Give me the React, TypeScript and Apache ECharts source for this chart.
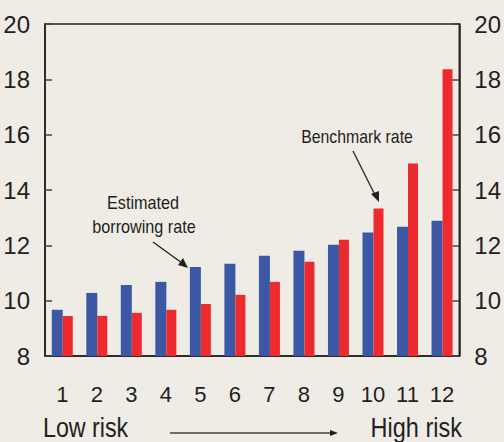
import React, { useEffect, useRef } from "react";
import * as echarts from "echarts";

const categories = ["1", "2", "3", "4", "5", "6", "7", "8", "9", "10", "11", "12"];
const borrowingRate = [9.67, 10.28, 10.57, 10.68, 11.22, 11.33, 11.62, 11.8, 12.02, 12.46, 12.67, 12.89];
const benchmarkRate = [9.45, 9.45, 9.56, 9.67, 9.88, 10.21, 10.68, 11.41, 12.2, 13.33, 14.96, 18.36];
const yMin = 8;
const yMax = 20;
const yInterval = 2;

const FF = "'Liberation Sans', Arial, Helvetica, sans-serif";
const INK = "#231f20";

export default function App() {
  const ref = useRef<HTMLDivElement>(null);
  useEffect(() => {
    if (!ref.current) return;
    const chart = echarts.init(ref.current, null, { renderer: "svg" });
    const yAxisBase = (pos: "left" | "right") => ({
      type: "value",
      position: pos,
      min: yMin,
      max: yMax,
      interval: yInterval,
      axisLine: { show: true, lineStyle: { color: INK, width: 1.5 } },
      axisTick: { show: true, inside: true, length: 7, lineStyle: { color: "#444", width: 1.5 } },
      axisLabel: { color: INK, fontFamily: FF, fontSize: 24, margin: 15 },
      splitLine: { show: false },
    });
    const note = (text: string, x: number, y: number, size: number, sx: number, align: string) => ({
      type: "text",
      x,
      y,
      scaleX: sx,
      style: { text, font: `${size}px ${FF}`, fill: INK, textAlign: align, textVerticalAlign: "middle" },
    });
    chart.setOption({
      animation: false,
      backgroundColor: "#efece6",
      grid: {
        left: 45,
        right: 38,
        top: 24,
        bottom: 86,
        show: true,
        borderColor: INK,
        borderWidth: 1.5,
        backgroundColor: "transparent",
      },
      xAxis: {
        type: "category",
        data: categories,
        axisLine: { show: true, lineStyle: { color: INK, width: 1.5 } },
        axisTick: { show: false },
        axisLabel: { color: INK, fontFamily: FF, fontSize: 22, margin: 27 },
      },
      yAxis: [yAxisBase("left"), yAxisBase("right")],
      series: [
        {
          name: "Estimated borrowing rate",
          type: "bar",
          data: borrowingRate,
          barWidth: 11,
          barGap: "0%",
          itemStyle: { color: "#3c58a4" },
        },
        {
          name: "Benchmark rate",
          type: "bar",
          data: benchmarkRate,
          barWidth: 10,
          barGap: "0%",
          itemStyle: { color: "#ed2b2f" },
        },
      ],
      graphic: [
        note("Estimated", 143, 203, 18, 0.9, "center"),
        note("borrowing rate", 144, 227, 18, 0.9, "center"),
        {
          type: "line",
          shape: { x1: 153, y1: 242, x2: 182, y2: 263 },
          style: { stroke: INK, lineWidth: 1.3 },
        },
        {
          type: "polygon",
          shape: { points: [[188, 268], [178, 265], [183, 258]] },
          style: { fill: INK },
        },
        note("Benchmark rate", 357, 137, 18, 0.88, "center"),
        {
          type: "line",
          shape: { x1: 353, y1: 151, x2: 375, y2: 195 },
          style: { stroke: INK, lineWidth: 1.3 },
        },
        {
          type: "polygon",
          shape: { points: [[379, 202], [371, 194], [379, 191]] },
          style: { fill: INK },
        },
        note("Low risk", 43, 427, 28, 0.83, "left"),
        note("High risk", 462, 427, 28, 0.84, "right"),
        {
          type: "line",
          shape: { x1: 170, y1: 433, x2: 331, y2: 433 },
          style: { stroke: "#444", lineWidth: 1.3 },
        },
        {
          type: "polygon",
          shape: { points: [[338, 433], [330, 430], [330, 436]] },
          style: { fill: INK },
        },
      ],
    });
    return () => chart.dispose();
  }, []);
  return <div ref={ref} style={{ position: "fixed", left: 0, top: 0, width: 504, height: 442 }} />;
}
